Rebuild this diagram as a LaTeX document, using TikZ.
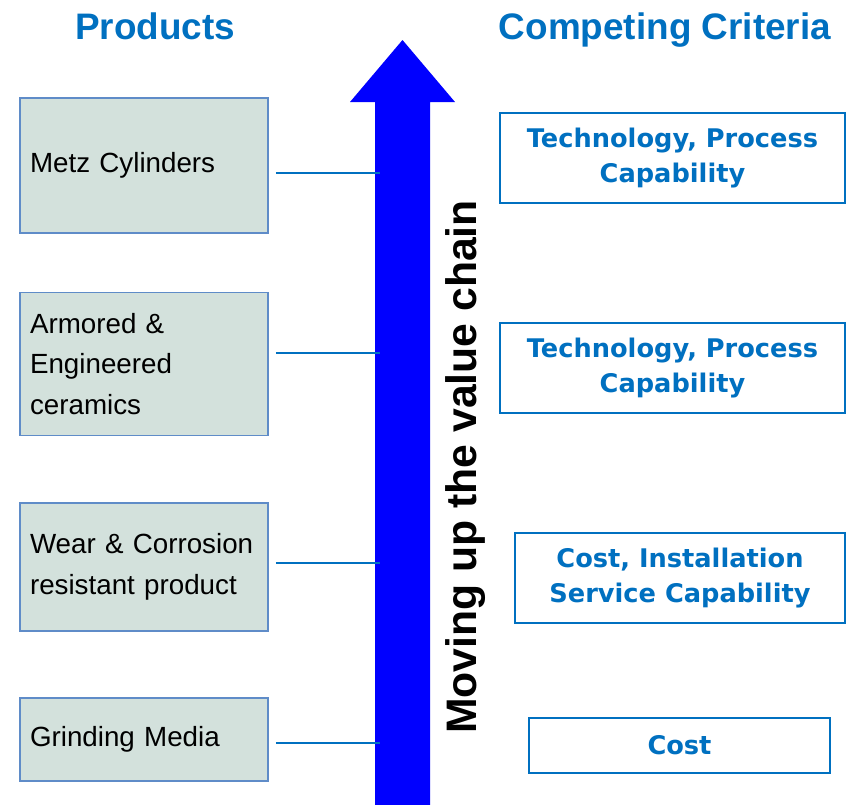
\documentclass[tikz,border=0pt]{standalone}
\usepackage{fontspec}
\setmainfont{Liberation Sans}
\newfontfamily\critfont{DejaVu Sans}
\usepackage{tikz}
\usetikzlibrary{calc}

\definecolor{hdblue}{RGB}{0,112,192}
\definecolor{boxfill}{RGB}{211,225,220}
\definecolor{boxline}{RGB}{95,140,200}
\definecolor{chain}{RGB}{0,0,255}

\begin{document}
\begin{tikzpicture}[x=0.02cm,y=-0.02cm,
  head/.style={anchor=base,text=hdblue,font=\fontsize{21}{25}\selectfont\bfseries},
  prod/.style={draw=boxline,line width=1pt,fill=boxfill,minimum width=4.96cm,
    text width=4.56cm,inner xsep=0.2cm,align=left,
    font=\fontsize{15.8}{23.2}\selectfont},
  crit/.style={draw=hdblue,line width=1pt,fill=white,align=center,inner sep=0pt,
    text=hdblue,font=\critfont\fontsize{14.6}{20.2}\selectfont\bfseries},
  link/.style={draw=hdblue,line width=0.85pt}]
  \useasboundingbox (0,0) rectangle (850,805);

\node[head] (hprod) at (155,39) {Products};
\node[head] (hcrit) at (665,39) {Competing Criteria};

% products
  \node (P1) at (144,165.5) [prod,minimum height=2.7cm] {Metz Cylinders};
  \node (P2) at (144,364) [prod,minimum height=2.86cm] {Armored \&\\Engineered\\ceramics};
  \node (P3) at (144,567) [prod,minimum height=2.56cm] {Wear \& Corrosion\\resistant product};
  \node (P4) at (144,739.5) [prod,minimum height=1.66cm] {Grinding Media};

% criteria
  \node (C1) at (672.5,158) [crit,minimum width=6.9cm,minimum height=1.8cm] {Technology, Process\\Capability};
  \node (C2) at (672.5,368) [crit,minimum width=6.9cm,minimum height=1.8cm] {Technology, Process\\Capability};
  \node (C3) at (680,578) [crit,minimum width=6.6cm,minimum height=1.8cm] {Cost, Installation\\Service Capability};
  \node (C4) at (679.5,745.5) [crit,minimum width=6.02cm,minimum height=1.1cm] {Cost};

% value chain arrow
\fill[chain] (375,805) -- (375,102) -- (350,102) -- (402.5,40) -- (455,102)
   -- (430,102) -- (430,805) -- cycle;
\node (V) at (476,467) [rotate=90,anchor=base,font=\fontsize{24.3}{28}\selectfont\bfseries]
   {Moving up the value chain};

  \coordinate (A1) at (380,173);
  \coordinate (A2) at (380,353);
  \coordinate (A3) at (380,563);
  \coordinate (A4) at (380,743);

\draw[link]
   ([xshift=0.14cm]A1 -| P1.east) to (A1)
   ([xshift=0.14cm]A2 -| P2.east) to (A2)
   ([xshift=0.14cm]A3 -| P3.east) to (A3)
   ([xshift=0.14cm]A4 -| P4.east) to (A4);

\end{tikzpicture}
\end{document}
